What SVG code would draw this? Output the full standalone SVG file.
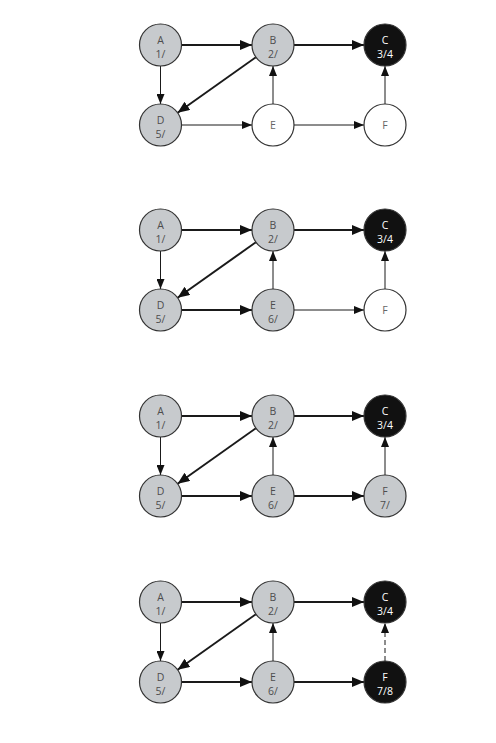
<svg xmlns="http://www.w3.org/2000/svg" width="496" height="743" viewBox="0 0 496 743">
<style>
.bg{fill:#ffffff}
circle{stroke:#333333;stroke-width:1.2}
.g{fill:#c7cacd}
.w{fill:#ffffff}
.k{fill:#111111}
text{font-family:"Open Sans","Liberation Sans",sans-serif;font-size:10.5px;text-anchor:middle}
.tg{fill:#4d4d4d}
.tw{fill:#666666}
.tk{fill:#ffffff}
.e{stroke:#1a1a1a;fill:none}
.thick{stroke-width:2;marker-end:url(#ab)}
.thin{stroke-width:1;marker-end:url(#as)}
.dash{stroke-width:1;stroke-dasharray:5 3;marker-end:url(#as)}
</style>
<defs>
<marker id="ab" markerUnits="userSpaceOnUse" markerWidth="12" markerHeight="10" refX="12" refY="5" orient="auto"><path d="M0,0 L12,5 L0,10 z" fill="#111"/></marker>
<marker id="as" markerUnits="userSpaceOnUse" markerWidth="10" markerHeight="8" refX="10" refY="4" orient="auto"><path d="M0,0 L10,4 L0,8 z" fill="#111"/></marker>
</defs>
<rect class="bg" x="0" y="0" width="496" height="743"/>

<!-- Panel 1 -->
<g id="panel1">
<g id="p1-edges">
<line class="e thick" x1="181.5" y1="45" x2="252" y2="45"/>
<line class="e thick" x1="294" y1="45" x2="364" y2="45"/>
<line class="e thick" x1="255.9" y1="57.2" x2="177.6" y2="112.8"/>
<line class="e thin" x1="160.5" y1="66" x2="160.5" y2="104"/>
<line class="e thin" x1="181.5" y1="125" x2="252" y2="125"/>
<line class="e thin" x1="273" y1="104" x2="273" y2="66"/>
<line class="e thin" x1="294" y1="125" x2="364" y2="125"/>
<line class="e thin" x1="385" y1="104" x2="385" y2="66"/>
</g>
<g id="p1-A"><circle class="g" cx="160.5" cy="45" r="21"/><text class="tg" x="160.5" y="43.5">A</text><text class="tg" x="160.5" y="57.5">1/</text></g>
<g id="p1-B"><circle class="g" cx="273" cy="45" r="21"/><text class="tg" x="273" y="43.5">B</text><text class="tg" x="273" y="57.5">2/</text></g>
<g id="p1-C"><circle class="k" cx="385" cy="45" r="21"/><text class="tk" x="385" y="43.5">C</text><text class="tk" x="385" y="57.5">3/4</text></g>
<g id="p1-D"><circle class="g" cx="160.5" cy="125" r="21"/><text class="tg" x="160.5" y="123.5">D</text><text class="tg" x="160.5" y="137.5">5/</text></g>
<g id="p1-E"><circle class="w" cx="273" cy="125" r="21"/><text class="tw" x="273" y="128.5">E</text></g>
<g id="p1-F"><circle class="w" cx="385" cy="125" r="21"/><text class="tw" x="385" y="128.5">F</text></g>
</g>

<!-- Panel 2 -->
<g id="panel2" transform="translate(0,185)">
<g id="p2-edges">
<line class="e thick" x1="181.5" y1="45" x2="252" y2="45"/>
<line class="e thick" x1="294" y1="45" x2="364" y2="45"/>
<line class="e thick" x1="255.9" y1="57.2" x2="177.6" y2="112.8"/>
<line class="e thin" x1="160.5" y1="66" x2="160.5" y2="104"/>
<line class="e thick" x1="181.5" y1="125" x2="252" y2="125"/>
<line class="e thin" x1="273" y1="104" x2="273" y2="66"/>
<line class="e thin" x1="294" y1="125" x2="364" y2="125"/>
<line class="e thin" x1="385" y1="104" x2="385" y2="66"/>
</g>
<g id="p2-A"><circle class="g" cx="160.5" cy="45" r="21"/><text class="tg" x="160.5" y="43.5">A</text><text class="tg" x="160.5" y="57.5">1/</text></g>
<g id="p2-B"><circle class="g" cx="273" cy="45" r="21"/><text class="tg" x="273" y="43.5">B</text><text class="tg" x="273" y="57.5">2/</text></g>
<g id="p2-C"><circle class="k" cx="385" cy="45" r="21"/><text class="tk" x="385" y="43.5">C</text><text class="tk" x="385" y="57.5">3/4</text></g>
<g id="p2-D"><circle class="g" cx="160.5" cy="125" r="21"/><text class="tg" x="160.5" y="123.5">D</text><text class="tg" x="160.5" y="137.5">5/</text></g>
<g id="p2-E"><circle class="g" cx="273" cy="125" r="21"/><text class="tg" x="273" y="123.5">E</text><text class="tg" x="273" y="137.5">6/</text></g>
<g id="p2-F"><circle class="w" cx="385" cy="125" r="21"/><text class="tw" x="385" y="128.5">F</text></g>
</g>

<!-- Panel 3 -->
<g id="panel3" transform="translate(0,371)">
<g id="p3-edges">
<line class="e thick" x1="181.5" y1="45" x2="252" y2="45"/>
<line class="e thick" x1="294" y1="45" x2="364" y2="45"/>
<line class="e thick" x1="255.9" y1="57.2" x2="177.6" y2="112.8"/>
<line class="e thin" x1="160.5" y1="66" x2="160.5" y2="104"/>
<line class="e thick" x1="181.5" y1="125" x2="252" y2="125"/>
<line class="e thin" x1="273" y1="104" x2="273" y2="66"/>
<line class="e thick" x1="294" y1="125" x2="364" y2="125"/>
<line class="e thin" x1="385" y1="104" x2="385" y2="66"/>
</g>
<g id="p3-A"><circle class="g" cx="160.5" cy="45" r="21"/><text class="tg" x="160.5" y="43.5">A</text><text class="tg" x="160.5" y="57.5">1/</text></g>
<g id="p3-B"><circle class="g" cx="273" cy="45" r="21"/><text class="tg" x="273" y="43.5">B</text><text class="tg" x="273" y="57.5">2/</text></g>
<g id="p3-C"><circle class="k" cx="385" cy="45" r="21"/><text class="tk" x="385" y="43.5">C</text><text class="tk" x="385" y="57.5">3/4</text></g>
<g id="p3-D"><circle class="g" cx="160.5" cy="125" r="21"/><text class="tg" x="160.5" y="123.5">D</text><text class="tg" x="160.5" y="137.5">5/</text></g>
<g id="p3-E"><circle class="g" cx="273" cy="125" r="21"/><text class="tg" x="273" y="123.5">E</text><text class="tg" x="273" y="137.5">6/</text></g>
<g id="p3-F"><circle class="g" cx="385" cy="125" r="21"/><text class="tg" x="385" y="123.5">F</text><text class="tg" x="385" y="137.5">7/</text></g>
</g>

<!-- Panel 4 -->
<g id="panel4" transform="translate(0,557)">
<g id="p4-edges">
<line class="e thick" x1="181.5" y1="45" x2="252" y2="45"/>
<line class="e thick" x1="294" y1="45" x2="364" y2="45"/>
<line class="e thick" x1="255.9" y1="57.2" x2="177.6" y2="112.8"/>
<line class="e thin" x1="160.5" y1="66" x2="160.5" y2="104"/>
<line class="e thick" x1="181.5" y1="125" x2="252" y2="125"/>
<line class="e thin" x1="273" y1="104" x2="273" y2="66"/>
<line class="e thick" x1="294" y1="125" x2="364" y2="125"/>
<line class="e dash" x1="385" y1="104" x2="385" y2="66"/>
</g>
<g id="p4-A"><circle class="g" cx="160.5" cy="45" r="21"/><text class="tg" x="160.5" y="43.5">A</text><text class="tg" x="160.5" y="57.5">1/</text></g>
<g id="p4-B"><circle class="g" cx="273" cy="45" r="21"/><text class="tg" x="273" y="43.5">B</text><text class="tg" x="273" y="57.5">2/</text></g>
<g id="p4-C"><circle class="k" cx="385" cy="45" r="21"/><text class="tk" x="385" y="43.5">C</text><text class="tk" x="385" y="57.5">3/4</text></g>
<g id="p4-D"><circle class="g" cx="160.5" cy="125" r="21"/><text class="tg" x="160.5" y="123.5">D</text><text class="tg" x="160.5" y="137.5">5/</text></g>
<g id="p4-E"><circle class="g" cx="273" cy="125" r="21"/><text class="tg" x="273" y="123.5">E</text><text class="tg" x="273" y="137.5">6/</text></g>
<g id="p4-F"><circle class="k" cx="385" cy="125" r="21"/><text class="tk" x="385" y="123.5">F</text><text class="tk" x="385" y="137.5">7/8</text></g>
</g>
</svg>
